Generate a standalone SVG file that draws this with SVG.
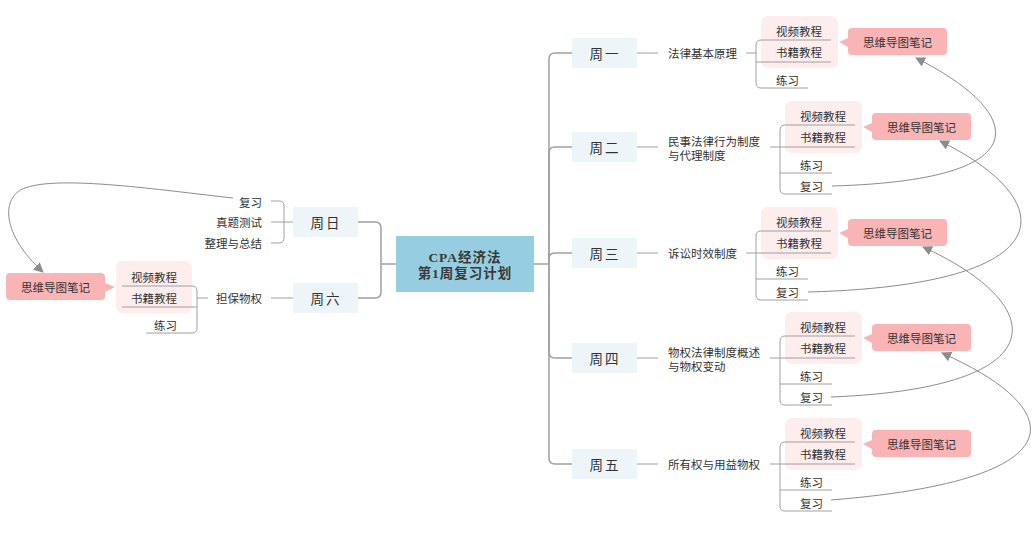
<svg xmlns="http://www.w3.org/2000/svg" xmlns:xlink="http://www.w3.org/1999/xlink" width="1034" height="535" viewBox="0 0 1034 535">
<style>
.ln{fill:none;stroke:#a0a0a0;stroke-width:1}
.tr{fill:none;stroke:#a0a0a0;stroke-width:1.5}
.ar{fill:none;stroke:#8c8c8c;stroke-width:1}
.t{font-family:"Noto Sans CJK SC","Noto Sans",sans-serif;font-size:11.5px;fill:#333;dominant-baseline:central}
.wk{fill:#EEF5F9}
.wt{font-family:"Noto Sans CJK SC","Noto Sans",sans-serif;font-size:13.5px;fill:#333;dominant-baseline:central;text-anchor:middle;letter-spacing:2px}
.pk{fill:#FDEDED}
.co{fill:#F9B4B5}
.ct{font-family:"Liberation Serif","Noto Sans CJK SC",serif;font-size:13.5px;font-weight:bold;fill:#3a3a3a;text-anchor:middle;dominant-baseline:central;letter-spacing:1px}
</style>
<defs>
<marker id="ah" viewBox="0 0 10 10" refX="9" refY="5" markerWidth="10" markerHeight="10" markerUnits="userSpaceOnUse" orient="auto">
<path d="M0,0 L10,5 L0,10 z" fill="#8c8c8c"/>
</marker>
<path id="callL" d="M4,0 H95 Q99,0 99,4 V23 Q99,27 95,27 H4 Q0,27 0,23 V19 L-9,14 L0,10 V4 Q0,0 4,0 Z"/>
<path id="callR" d="M4,0 H95 Q99,0 99,4 V10 L109,14 L99,19 V23 Q99,27 95,27 H4 Q0,27 0,23 V4 Q0,0 4,0 Z"/>
</defs>
<rect width="1034" height="535" fill="#fff"/>

<g id="connectors">
<path class="tr" d="M534,264 H549" stroke-width="2"/>
<path class="tr" d="M549,264 V59 Q549,53 555,53 H572"/>
<path class="tr" d="M549,264 V153 Q549,147 555,147 H572"/>
<path class="tr" d="M549,264 V259 Q549,253 555,253 H572"/>
<path class="tr" d="M549,264 V352 Q549,358 555,358 H572"/>
<path class="tr" d="M549,264 V458 Q549,464 555,464 H572"/>
<path class="tr" d="M396,264 H381" stroke-width="2"/>
<path class="tr" d="M381,264 V228 Q381,222 375,222 H358"/>
<path class="tr" d="M381,264 V292 Q381,298 375,298 H358"/>
<path class="ln" d="M637,53 H658 M637,147 H658 M637,253 H658 M637,358 H658 M637,464 H658"/>
<path class="ln" d="M746,53 H756 M770,147 H780 M746,253 H756 M770,358 H780 M770,464 H780"/>
<path class="ln" d="M293,222 H271 M271,201 H279 Q284,201 284,206 V238 Q284,243 279,243 H271"/>
<path class="ln" d="M293,298 H271 M208,298 H197"/>
<path class="ar" d="M832,186 C1050,180 1020,110 916,58" marker-end="url(#ah)"/>
<path class="ar" d="M808,292 C1070,285 1060,200 940,141" marker-end="url(#ah)"/>
<path class="ar" d="M831,397 C1060,388 1050,305 923,247" marker-end="url(#ah)"/>
<path class="ar" d="M831,500 C1080,480 1070,410 942,353" marker-end="url(#ah)"/>
<path class="ar" d="M233,198 C160,190 60,175 25,188 C0,197 2,235 43,272" marker-end="url(#ah)"/>
</g>

<g id="center">
<rect x="396" y="236" width="138" height="56" fill="#96CDE0"/>
<text class="ct" x="465" y="257">CPA经济法</text>
<text class="ct" x="465" y="273">第1周复习计划</text>
</g>

<g id="w1"><rect class="wk" x="572" y="38" width="65" height="30"/><text class="wt" x="605" y="53">周一</text></g>
<g id="w2"><rect class="wk" x="572" y="132" width="65" height="30"/><text class="wt" x="605" y="147">周二</text></g>
<g id="w3"><rect class="wk" x="572" y="238" width="65" height="30"/><text class="wt" x="605" y="253">周三</text></g>
<g id="w4"><rect class="wk" x="572" y="343" width="65" height="30"/><text class="wt" x="605" y="358">周四</text></g>
<g id="w5"><rect class="wk" x="572" y="449" width="65" height="30"/><text class="wt" x="605" y="464">周五</text></g>
<g id="w7"><rect class="wk" x="293" y="207" width="65" height="30"/><text class="wt" x="326" y="222">周日</text></g>
<g id="w6"><rect class="wk" x="293" y="283" width="65" height="30"/><text class="wt" x="326" y="298">周六</text></g>

<g id="l1"><text class="t" x="668" y="53">法律基本原理</text></g>
<g id="l2"><text class="t" x="668" y="141">民事法律行为制度</text><text class="t" x="668" y="155">与代理制度</text></g>
<g id="l3"><text class="t" x="668" y="253">诉讼时效制度</text></g>
<g id="l4"><text class="t" x="668" y="352">物权法律制度概述</text><text class="t" x="668" y="366">与物权变动</text></g>
<g id="l5"><text class="t" x="668" y="464">所有权与用益物权</text></g>

<g id="s1" transform="translate(756,40)">
<rect class="pk" x="5" y="-24" width="77" height="52" rx="7"/>
<path class="ln" d="M75,0 H5 Q0,0 0,5 V43 Q0,48 5,48 H52 M0,22 H75"/>
<text class="t" x="20" y="-9">视频教程</text><text class="t" x="20" y="12">书籍教程</text><text class="t" x="20" y="40">练习</text>
<use xlink:href="#callL" x="92" y="-12" class="co"/><text class="t" x="141.5" y="1.5" text-anchor="middle">思维导图笔记</text>
</g>
<g id="s2" transform="translate(780,125)">
<rect class="pk" x="5" y="-24" width="77" height="52" rx="7"/>
<path class="ln" d="M75,0 H5 Q0,0 0,5 V64 Q0,69 5,69 H52 M0,22 H75 M0,48 H52"/>
<text class="t" x="20" y="-9">视频教程</text><text class="t" x="20" y="12">书籍教程</text><text class="t" x="20" y="40">练习</text><text class="t" x="20" y="61">复习</text>
<use xlink:href="#callL" x="92" y="-12" class="co"/><text class="t" x="141.5" y="1.5" text-anchor="middle">思维导图笔记</text>
</g>
<g id="s3" transform="translate(756,231)">
<rect class="pk" x="5" y="-24" width="77" height="52" rx="7"/>
<path class="ln" d="M75,0 H5 Q0,0 0,5 V64 Q0,69 5,69 H52 M0,22 H75 M0,48 H52"/>
<text class="t" x="20" y="-9">视频教程</text><text class="t" x="20" y="12">书籍教程</text><text class="t" x="20" y="40">练习</text><text class="t" x="20" y="61">复习</text>
<use xlink:href="#callL" x="92" y="-12" class="co"/><text class="t" x="141.5" y="1.5" text-anchor="middle">思维导图笔记</text>
</g>
<g id="s4" transform="translate(780,336)">
<rect class="pk" x="5" y="-24" width="77" height="52" rx="7"/>
<path class="ln" d="M75,0 H5 Q0,0 0,5 V64 Q0,69 5,69 H52 M0,22 H75 M0,48 H52"/>
<text class="t" x="20" y="-9">视频教程</text><text class="t" x="20" y="12">书籍教程</text><text class="t" x="20" y="40">练习</text><text class="t" x="20" y="61">复习</text>
<use xlink:href="#callL" x="92" y="-12" class="co"/><text class="t" x="141.5" y="1.5" text-anchor="middle">思维导图笔记</text>
</g>
<g id="s5" transform="translate(780,442)">
<rect class="pk" x="5" y="-24" width="77" height="52" rx="7"/>
<path class="ln" d="M75,0 H5 Q0,0 0,5 V64 Q0,69 5,69 H52 M0,22 H75 M0,48 H52"/>
<text class="t" x="20" y="-9">视频教程</text><text class="t" x="20" y="12">书籍教程</text><text class="t" x="20" y="40">练习</text><text class="t" x="20" y="61">复习</text>
<use xlink:href="#callL" x="92" y="-12" class="co"/><text class="t" x="141.5" y="1.5" text-anchor="middle">思维导图笔记</text>
</g>

<g id="s7">
<text class="t" x="262" y="202" text-anchor="end">复习</text>
<text class="t" x="262" y="222" text-anchor="end">真题测试</text>
<text class="t" x="262" y="243" text-anchor="end">整理与总结</text>
</g>
<g id="s6">
<text class="t" x="262" y="298" text-anchor="end">担保物权</text>
<rect class="pk" x="116" y="261" width="76" height="52" rx="7"/>
<path class="ln" d="M122,286 H192 Q197,286 197,291 V328 Q197,333 192,333 H146 M122,307 H197"/>
<text class="t" x="177" y="277" text-anchor="end">视频教程</text>
<text class="t" x="177" y="298" text-anchor="end">书籍教程</text>
<text class="t" x="177" y="325" text-anchor="end">练习</text>
<use xlink:href="#callR" x="6" y="273" class="co"/><text class="t" x="55.5" y="286.5" text-anchor="middle">思维导图笔记</text>
</g>
</svg>
